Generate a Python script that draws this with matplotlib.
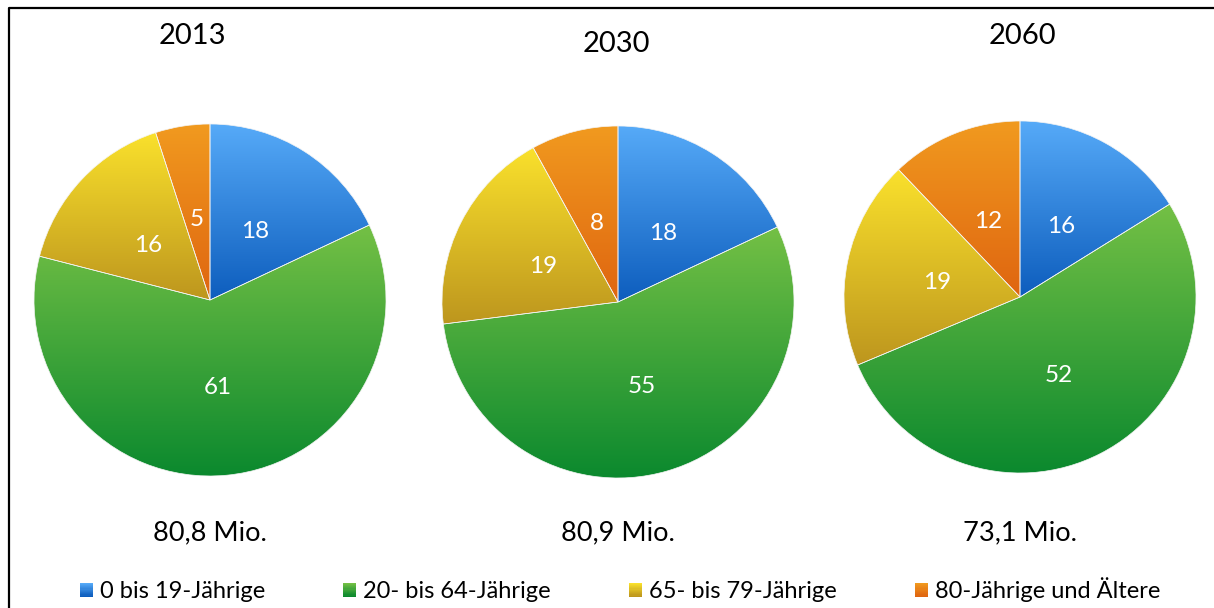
import numpy as np
import matplotlib
matplotlib.use("Agg")
import matplotlib.pyplot as plt
from matplotlib.colors import to_rgb
from matplotlib.lines import Line2D
from matplotlib.patches import Rectangle

plt.rcParams["font.family"] = ["Lato", "DejaVu Sans"]

# Daten
years   = ["2013", "2030", "2060"]
totals  = ["80,8 Mio.", "80,9 Mio.", "73,1 Mio."]
groups  = ["0 bis 19-Jährige", "20- bis 64-Jährige",
           "65- bis 79-Jährige", "80-Jährige und Ältere"]
v2013   = [18, 61, 16, 5]
v2030   = [18, 55, 19, 8]
v2060   = [16, 52, 19, 12]
values  = [v2013, v2030, v2060]

# Farbverlauf je Segment: (oben, unten)
GRAD = [
    ("#56AAF8", "#0D5DBD"),   # blau
    ("#74C045", "#0B892E"),   # grün
    ("#FAE12C", "#BD961E"),   # gelb
    ("#F19A1F", "#DF6510"),   # orange
]

W, H = 1214, 608
centers = [(210, 308), (618, 306), (1020, 311)]
R = 176
title_pos = [(192, 572), (616, 564), (1022, 572)]


def _grad_img(top, bottom, n=256):
    t = np.linspace(0, 1, n)[:, None, None]
    return np.array(to_rgb(top)) * (1 - t) + np.array(to_rgb(bottom)) * t


def fill_gradient(ax, patch, top, bottom):
    """Segment mit vertikalem Verlauf füllen (Bild auf Segment geclippt)."""
    ext = patch.get_path().get_extents(patch.get_patch_transform())
    im = ax.imshow(_grad_img(top, bottom),
                   extent=(ext.x0, ext.x1, ext.y0, ext.y1),
                   origin="upper", aspect="auto",
                   interpolation="bilinear", zorder=1)
    im.set_clip_path(patch)


class GradSwatch:
    def __init__(self, top, bottom):
        self.top, self.bottom = top, bottom


class GradHandler:
    def legend_artist(self, legend, orig_handle, fontsize, handlebox):
        x0, y0 = -handlebox.xdescent, -handlebox.ydescent
        w, h = handlebox.width, handlebox.height
        img = _grad_img(orig_handle.top, orig_handle.bottom, n=12)[:, 0, :]
        n = len(img)
        for i, c in enumerate(img):
            r = Rectangle((x0, y0 + h * (n - 1 - i) / n), w, h / n + 0.3,
                          facecolor=c, lw=0, transform=handlebox.get_transform())
            handlebox.add_artist(r)
        return r


fig = plt.figure(figsize=(W / 100, H / 100), dpi=100)
ax = fig.add_axes([0, 0, 1, 1])

for vals, c, year, tot, tpos in zip(values, centers, years, totals, title_pos):
    wedges, texts = ax.pie(vals, labels=[str(v) for v in vals],
                           center=c, radius=R, startangle=90,
                           counterclock=False, labeldistance=0.48,
                           textprops=dict(color="white", fontsize=17.5),
                           wedgeprops=dict(edgecolor="#f4f4f4", linewidth=0.5),
                           frame=True)
    for t in texts:
        t.set_ha("center")
        t.set_va("center")
        t.set_zorder(5)
        x, y = t.get_position()
        t.set_position((x, y - 3))
    for w, (top, bot) in zip(wedges, GRAD):
        w.set_facecolor("none")
        w.set_zorder(2)
        fill_gradient(ax, w, top, bot)
    ax.text(tpos[0], tpos[1], year, ha="center", va="center", fontsize=21)
    ax.text(c[0], 75, tot, ha="center", va="center", fontsize=19.5)

ax.set_xlim(0, W)
ax.set_ylim(0, H)
ax.set_aspect("equal")
ax.axis("off")

handles = [GradSwatch(t, b) for t, b in GRAD]
fig.legend(handles, groups, handler_map={GradSwatch: GradHandler()},
           loc="center", bbox_to_anchor=(620 / W, 18 / H), ncol=4,
           frameon=False, fontsize=17, handlelength=0.55, handleheight=0.55,
           handletextpad=0.3, columnspacing=3.3)

# Rahmen nur oben und links
fig.add_artist(Line2D([9 / W, 9 / W, 1], [0, 1 - 8 / H, 1 - 8 / H],
                      transform=fig.transFigure, color="black", lw=1.6))

fig.savefig("out.png", dpi=100)
